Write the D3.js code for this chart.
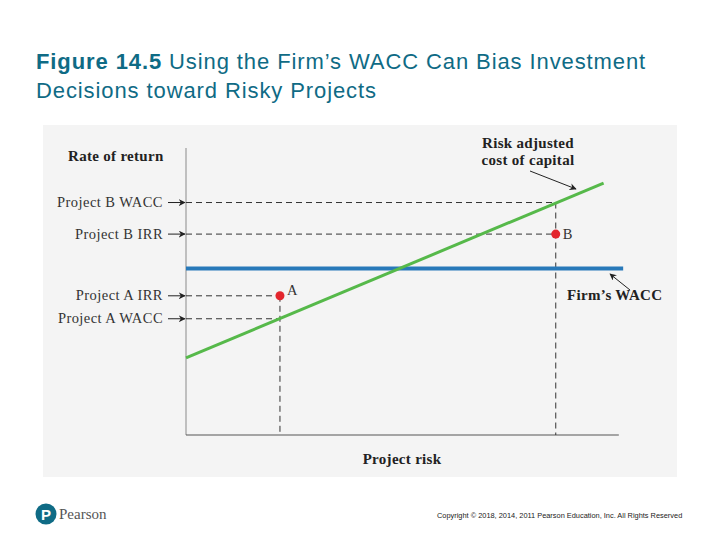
<!DOCTYPE html>
<html>
<head>
<meta charset="utf-8">
<script src="https://cdn.jsdelivr.net/npm/d3@7"></script>
<style>
  body { margin: 0; background: #fff; }
</style>
</head>
<body>
<script>
// Donnees (risque 0-10, rendement 0-20)
var rateLabels = ['Project B WACC', 'Project B IRR', 'Project A IRR', 'Project A WACC']
var rateValues = [16.2, 14.0, 9.7, 8.1]
var projects = ['A', 'B']
var projectRisk = [2.16, 8.5]
var projectIRR = [9.7, 14.0]
var projectWACC = [8.1, 16.2]
var firmWACC = 11.6
var firmWACCRange = [0, 10.05]
var riskAdjRisk = [0, 9.6]
var riskAdjRate = [5.37, 17.56]

var colours = {
    title: '#0f6b85',
    text: '#333',
    panel: '#f4f4f4',
    blue: '#2879b9',
    green: '#56b94a',
    red: '#e3262d',
    axis: '#8a8a8a'
}

var W = 720, H = 540
var svg = d3.select('body').append('svg')
    .attr('width', W)
    .attr('height', H)

svg.append('defs').append('marker')
    .attr('id', 'arr')
    .attr('viewBox', '0 0 10 10')
    .attr('refX', 9).attr('refY', 5)
    .attr('markerWidth', 7).attr('markerHeight', 7)
    .attr('markerUnits', 'userSpaceOnUse')
    .attr('orient', 'auto')
    .append('path')
    .attr('d', 'M0,0 L10,5 L0,10 L3,5 Z')
    .attr('fill', '#222')

// Titre
var title = svg.append('text')
    .attr('x', 36).attr('y', 69)
    .attr('font-family', 'Liberation Sans, Arial, sans-serif')
    .attr('font-size', '22px')
    .attr('letter-spacing', '0.9px')
    .attr('fill', colours.title)
title.append('tspan').attr('font-weight', 'bold').text('Figure 14.5')
title.append('tspan').text(' Using the Firm\u2019s WACC Can Bias Investment')
svg.append('text')
    .attr('x', 36).attr('y', 98)
    .attr('font-family', 'Liberation Sans, Arial, sans-serif')
    .attr('font-size', '22px')
    .attr('letter-spacing', '0.9px')
    .attr('fill', colours.title)
    .text('Decisions toward Risky Projects')

// Panneau gris
svg.append('rect')
    .attr('x', 43).attr('y', 125)
    .attr('width', 634).attr('height', 352)
    .attr('fill', colours.panel)

// Echelles
var x = d3.scaleLinear().domain([0, 10]).range([186, 621])
var y = d3.scaleLinear().domain([0, 20]).range([435, 148])

var serif = 'Liberation Serif, Times New Roman, serif'

// Axes
svg.append('line')
    .attr('x1', x(0)).attr('x2', x(0))
    .attr('y1', y(0)).attr('y2', y(20))
    .attr('stroke', colours.axis).attr('stroke-width', 1)
svg.append('line')
    .attr('x1', x(0)).attr('x2', x(9.95))
    .attr('y1', y(0)).attr('y2', y(0))
    .attr('stroke', '#555').attr('stroke-width', 1.2)

function boldLabel(sel) {
    return sel.attr('font-family', serif).attr('font-size', '15px')
        .attr('letter-spacing', '0.3px')
        .attr('font-weight', 'bold').attr('fill', '#222')
}

svg.append('text')
    .attr('x', 68).attr('y', 161)
    .call(boldLabel)
    .text('Rate of return')
svg.append('text')
    .attr('x', 402).attr('y', 464)
    .attr('text-anchor', 'middle')
    .call(boldLabel)
    .text('Project risk')

// Lignes pointillees horizontales
svg.selectAll('.hdash').data(rateValues).join('line')
    .attr('class', 'hdash')
    .attr('x1', x(0))
    .attr('x2', (d, i) => x(i === 0 || i === 1 ? projectRisk[1] : projectRisk[0]))
    .attr('y1', d => y(d)).attr('y2', d => y(d))
    .attr('stroke', '#333').attr('stroke-width', 1)
    .attr('stroke-dasharray', '6,4')

// Lignes pointillees verticales
svg.selectAll('.vdash').data(projects).join('line')
    .attr('class', 'vdash')
    .attr('x1', (d, i) => x(projectRisk[i]))
    .attr('x2', (d, i) => x(projectRisk[i]))
    .attr('y1', (d, i) => y(Math.max(projectWACC[i], projectIRR[i])))
    .attr('y2', y(0))
    .attr('stroke', '#333').attr('stroke-width', 1)
    .attr('stroke-dasharray', '6,4')

// Etiquettes et fleches de l'axe des taux
svg.selectAll('.rlab').data(rateLabels).join('text')
    .attr('class', 'rlab')
    .attr('x', 163)
    .attr('y', (d, i) => y(rateValues[i]) + 4.5)
    .attr('text-anchor', 'end')
    .attr('font-family', serif).attr('font-size', '14.5px')
    .attr('letter-spacing', '0.45px')
    .attr('fill', colours.text)
    .text(d => d)
svg.selectAll('.rarr').data(rateValues).join('line')
    .attr('class', 'rarr')
    .attr('x1', 168).attr('x2', x(0) - 1)
    .attr('y1', d => y(d)).attr('y2', d => y(d))
    .attr('stroke', '#222').attr('stroke-width', 1)
    .attr('marker-end', 'url(#arr)')

// WACC de la firme
svg.append('line')
    .attr('x1', x(firmWACCRange[0])).attr('x2', x(firmWACCRange[1]))
    .attr('y1', y(firmWACC)).attr('y2', y(firmWACC))
    .attr('stroke', colours.blue).attr('stroke-width', 4)

// Cout du capital ajuste au risque
svg.append('path')
    .attr('d', d3.line()(riskAdjRisk.map((r, i) => [x(r), y(riskAdjRate[i])])))
    .attr('stroke', colours.green).attr('stroke-width', 3)
    .attr('fill', 'none')

// Points des projets
svg.selectAll('.pt').data(projects).join('circle')
    .attr('class', 'pt')
    .attr('cx', (d, i) => x(projectRisk[i]))
    .attr('cy', (d, i) => y(projectIRR[i]))
    .attr('r', 4.5)
    .attr('fill', colours.red)
svg.selectAll('.ptl').data(projects).join('text')
    .attr('class', 'ptl')
    .attr('x', (d, i) => x(projectRisk[i]) + 7)
    .attr('y', (d, i) => y(projectIRR[i]) + (i === 0 ? -1 : 5))
    .attr('font-family', serif).attr('font-size', '14.5px')
    .attr('fill', colours.text)
    .text(d => d)

// Annotations
var ann = svg.append('text')
    .attr('text-anchor', 'middle')
    .call(boldLabel)
ann.append('tspan').attr('x', 528).attr('y', 148).text('Risk adjusted')
ann.append('tspan').attr('x', 528).attr('y', 165).text('cost of capital')
svg.append('line')
    .attr('x1', 530).attr('y1', 171)
    .attr('x2', 576).attr('y2', 189)
    .attr('stroke', '#222').attr('stroke-width', 1)
    .attr('marker-end', 'url(#arr)')

svg.append('text')
    .attr('x', 567).attr('y', 300)
    .call(boldLabel)
    .text('Firm\u2019s WACC')
svg.append('line')
    .attr('x1', 630).attr('y1', 290)
    .attr('x2', 610).attr('y2', 274)
    .attr('stroke', '#222').attr('stroke-width', 1)
    .attr('marker-end', 'url(#arr)')

// Pied de page
svg.append('circle')
    .attr('cx', 46).attr('cy', 514).attr('r', 10.5)
    .attr('fill', '#0f6b85')
svg.append('text')
    .attr('x', 46).attr('y', 520)
    .attr('text-anchor', 'middle')
    .attr('font-family', 'Liberation Sans, Arial, sans-serif')
    .attr('font-size', '15px').attr('font-weight', 'bold')
    .attr('fill', '#fff')
    .text('P')
svg.append('text')
    .attr('x', 59).attr('y', 519)
    .attr('font-family', serif).attr('font-size', '15px')
    .attr('fill', '#555')
    .text('Pearson')
svg.append('text')
    .attr('x', 437).attr('y', 518)
    .attr('font-family', 'Liberation Sans, Arial, sans-serif')
    .attr('font-size', '7.4px')
    .attr('fill', '#222')
    .text('Copyright \u00a9 2018, 2014, 2011 Pearson Education, Inc. All Rights Reserved')
</script>
</body>
</html>
